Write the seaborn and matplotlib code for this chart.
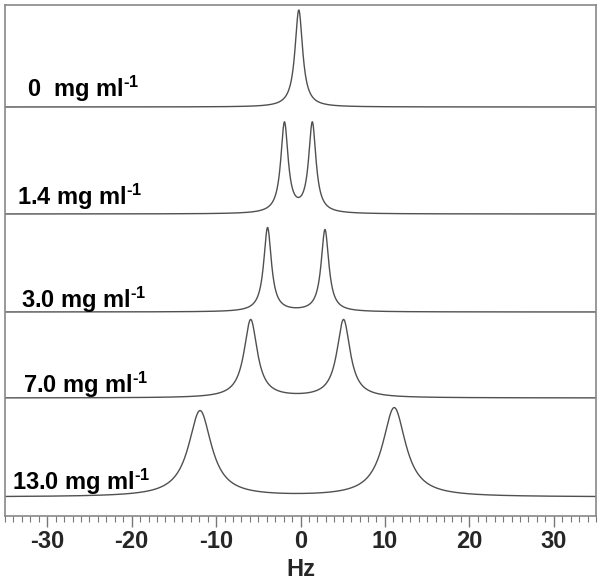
import numpy as np
import pandas as pd
import matplotlib
matplotlib.use("Agg")
import matplotlib.pyplot as plt
from matplotlib.ticker import MultipleLocator
from matplotlib.transforms import blended_transform_factory
import seaborn as sns

# concentrations (labels) and peak parameters
labels = ["0  mg ml", "1.4 mg ml", "3.0 mg ml", "7.0 mg ml", "13.0 mg ml"]
baselines = [409, 302, 204, 118, 19]          # vertical stacking offset of each trace
peak_pos = [[-0.2], [-1.9, 1.4], [-3.9, 2.9], [-5.9, 5.1], [-11.9, 11.1]]   # Hz
peak_height = [[97], [90, 90], [84, 82], [78, 78], [86, 89]]
peak_fwhm = [[1.1], [1.05], [1.1], [1.9], [3.3]]   # Hz
label_x = [0.037, 0.020, 0.027, 0.030, 0.012]      # axes fraction
label_y = [419, 311, 208, 123, 26]

hz = np.linspace(-35, 35, 2801)

rows = []
for i, lab in enumerate(labels):
    g = peak_fwhm[i][0] / 2
    sig = np.zeros_like(hz)
    for c, h in zip(peak_pos[i], peak_height[i]):
        sig += h / (1 + ((hz - c) / g) ** 2)
    rows.append(pd.DataFrame({"Hz": hz, "signal": sig + baselines[i], "conc": lab}))
df = pd.concat(rows)

sns.set_style("white")
plt.rcParams["font.family"] = ["Liberation Sans", "DejaVu Sans"]
plt.rcParams["axes.unicode_minus"] = False
plt.rcParams["mathtext.fontset"] = "custom"
plt.rcParams["mathtext.rm"] = "Liberation Sans:bold"
plt.rcParams["mathtext.it"] = "Liberation Sans:bold"
plt.rcParams["mathtext.bf"] = "Liberation Sans:bold"

fig = plt.figure(figsize=(6.01, 5.80), dpi=100)
ax = fig.add_axes([5 / 601, 64 / 580, 591 / 601, 511 / 580])

sns.lineplot(data=df, x="Hz", y="signal", units="conc", estimator=None,
             color="#505050", linewidth=1.0, ax=ax, sort=False)

trans = blended_transform_factory(ax.transAxes, ax.transData)
for i, lab in enumerate(labels):
    ax.text(label_x[i], label_y[i], lab + r"$^{\text{-1}}$", transform=trans,
            fontsize=17, fontweight="bold", va="baseline", ha="left", color="black")

ax.set_xlim(-35, 35)
ax.set_ylim(0, 511)
ax.set_yticks([])
ax.xaxis.set_major_locator(MultipleLocator(10))
ax.xaxis.set_minor_locator(MultipleLocator(1))
ax.tick_params(axis="x", which="major", direction="out", length=8, width=1,
               color="#777777", pad=2, labelsize=17, bottom=True)
ax.tick_params(axis="x", which="minor", direction="out", length=4, width=0.8,
               color="#777777", bottom=True)
for t in ax.get_xticklabels():
    t.set_fontweight("bold")
ax.set_xlabel("Hz", fontsize=17, fontweight="bold", labelpad=4)
ax.set_ylabel("")
for s in ax.spines.values():
    s.set_color("#888888")
    s.set_linewidth(1.2)

fig.savefig("out.png", dpi=100)
